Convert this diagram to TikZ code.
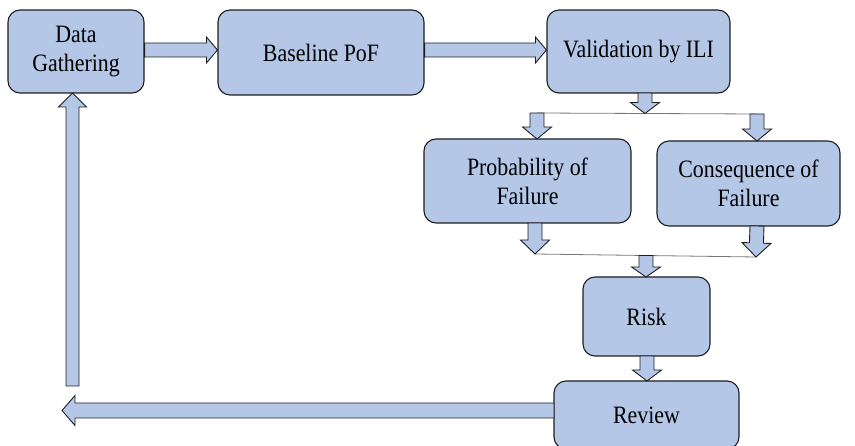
\documentclass[tikz,border=0pt]{standalone}
\usepackage{fontspec}
\setmainfont[FakeStretch=0.875]{Liberation Serif}
\usetikzlibrary{calc}
\definecolor{boxfill}{RGB}{180,199,231}
\definecolor{boxline}{RGB}{30,30,30}
\definecolor{thinline}{RGB}{120,120,120}
\tikzset{
  box/.style={draw=boxline, fill=boxfill, line width=1.1pt, rounded corners=12pt,
    align=center, inner sep=0pt, font=\fontsize{25}{29}\selectfont},
  barrow/.style={draw=boxline, fill=boxfill, line width=0.9pt, line join=miter},
  joinline/.style={draw=thinline, line width=0.8pt}
}
% block arrow: tail #1, tip #2, shaft half-width #3, head half-width #4, head length #5
\newcommand\barr[5]{%
  \draw[barrow] ($(#1)!#3!90:(#2)$)
   -- ($(#2)!#5!(#1)!#3!-90:(#1)$)
   -- ($(#2)!#5!(#1)!#4!-90:(#1)$)
   -- (#2)
   -- ($(#2)!#5!(#1)!#4!90:(#1)$)
   -- ($(#2)!#5!(#1)!#3!90:(#1)$)
   -- ($(#1)!#3!-90:(#2)$) -- cycle;}
\begin{document}
\begin{tikzpicture}[x=1pt,y=-1pt]
\useasboundingbox (0,0) rectangle (855,446);
\clip (0,0) rectangle (855,446);
% boxes
\node[box, minimum width=136pt, minimum height=83pt] (dg) at (76,51.5) {Data\\Gathering};
\node[box, minimum width=206pt, minimum height=85pt] (bp) at (321,52.5) {Baseline PoF};
\node[box, minimum width=183pt, minimum height=83pt] (val) at (638.5,51.5) {Validation by ILI};
\node[box, minimum width=207pt, minimum height=84pt] (pof) at (527.5,181) {Probability of\\Failure};
\node[box, minimum width=183pt, minimum height=85pt] (cof) at (748.5,183.5) {Consequence of\\Failure};
\node[box, minimum width=127pt, minimum height=79pt] (risk) at (646.5,316.5) {Risk};
\node[box, minimum width=185pt, minimum height=68pt] (rev) at (646.5,415) {Review};
% coordinates
\coordinate (a1s) at (dg.east |- 0,50);
\coordinate (a1e) at (bp.west |- 0,50);
\coordinate (a2s) at (bp.east |- 0,50);
\coordinate (a2e) at (val.west |- 0,50);
\coordinate (a3s) at (645,93);
\coordinate (j1) at (645,113.5);
\coordinate (l1a) at (537,113);
\coordinate (l1b) at (757,114);
\coordinate (a4e) at (537,139);
\coordinate (a5e) at (757,141);
\coordinate (a6s) at (535,223);
\coordinate (a7s) at (757,226);
\coordinate (l2a) at (535,254);
\coordinate (l2b) at (756,257);
\coordinate (a8s) at (646,255.5);
\coordinate (a8e) at (646,277);
\coordinate (a9s) at (647,356);
\coordinate (a9e) at (647,381);
\coordinate (a10s) at (554,410.5);
\coordinate (a10e) at (62,410.5);
\coordinate (a11s) at (72.5,386);
\coordinate (a11e) at (72.5,93);
% thin joining lines
\draw[joinline] (l1a) -- (l1b);
\draw[joinline] (l2a) -- (l2b);
% block arrows
\barr{a1s}{a1e}{7pt}{13pt}{11pt}
\barr{a2s}{a2e}{7pt}{13pt}{11pt}
\barr{a3s}{j1}{7pt}{14.5pt}{11pt}
\barr{l1a}{a4e}{7pt}{14.5pt}{12pt}
\barr{l1b}{a5e}{7pt}{14.5pt}{12pt}
\barr{a6s}{l2a}{7pt}{14.5pt}{14pt}
\barr{a7s}{l2b}{7pt}{14.5pt}{14pt}
\barr{a8s}{a8e}{7pt}{14.5pt}{10pt}
\barr{a9s}{a9e}{7pt}{14.5pt}{11pt}
\barr{a10s}{a10e}{7.5pt}{15pt}{13pt}
\barr{a11s}{a11e}{6.5pt}{14pt}{14pt}
\end{tikzpicture}
\end{document}
